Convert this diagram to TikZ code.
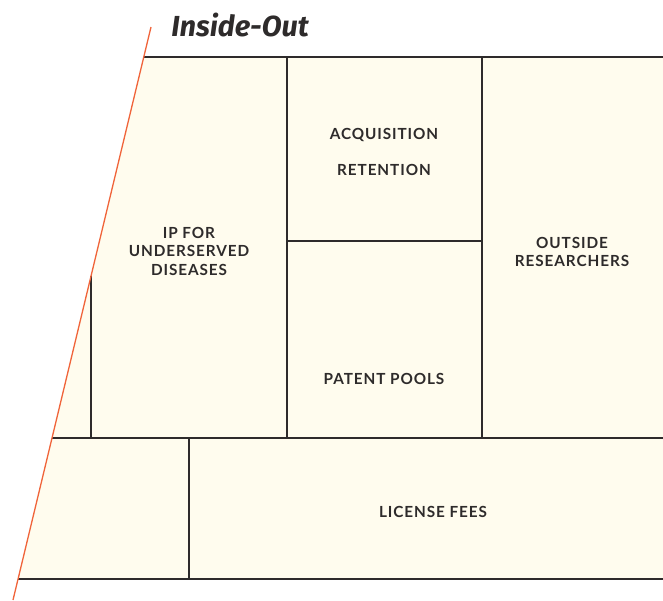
\documentclass[tikz,border=0pt]{standalone}
\usepackage{fontspec}
\setmainfont{Lato}
\newfontfamily\titlefont{Fira Sans}
\newfontfamily\labfont[LetterSpace=6]{Lato}
\definecolor{cream}{HTML}{FFFCEE}
\definecolor{ink}{HTML}{2E2B2B}
\definecolor{redline}{HTML}{F0643A}
\tikzset{
  heavy/.style={draw=ink, line width=2.8pt},
  thin/.style={draw=ink, line width=1.6pt},
  lab/.style={font=\labfont\bfseries\fontsize{15.3}{18.5}\selectfont, text=ink, align=center, inner sep=0pt},
}
\begin{document}
\begin{tikzpicture}[x=1pt,y=-1pt]
\useasboundingbox (0,0) rectangle (663,600);
% fill
\fill[cream] (143.8,57) -- (663,57) -- (663,579) -- (17.9,579) -- cycle;
% inner lines
\draw[thin] (52,438) -- (663,438);
\draw[thin] (91,276) -- (91,438);
\draw[thin] (287,57) -- (287,438);
\draw[thin] (482,57) -- (482,438);
\draw[thin] (287,241) -- (482,241);
\draw[thin] (189,438) -- (189,579);
% heavy lines
\draw[heavy] (143.8,57) -- (663,57);
\draw[heavy] (17.9,579) -- (663,579);
% orange line
\draw[redline, line width=1.3pt] (151,27) -- (13,600);
% title
\node[font=\titlefont\bfseries\itshape\fontsize{29}{29}\selectfont, text=ink, inner sep=0pt] (title) at (240,25) {Inside-Out};
% labels
\node[lab] (ip) at (189,251) {IP FOR\\UNDERSERVED\\DISEASES};
\node[lab] (acq) at (384,135) {ACQUISITION};
\node[lab] (ret) at (384,170) {RETENTION};
\node[lab] (out) at (572,252) {OUTSIDE\\RESEARCHERS};
\node[lab] (pat) at (384,379) {PATENT POOLS};
\node[lab] (lic) at (433,512) {LICENSE FEES};
\end{tikzpicture}
\end{document}
